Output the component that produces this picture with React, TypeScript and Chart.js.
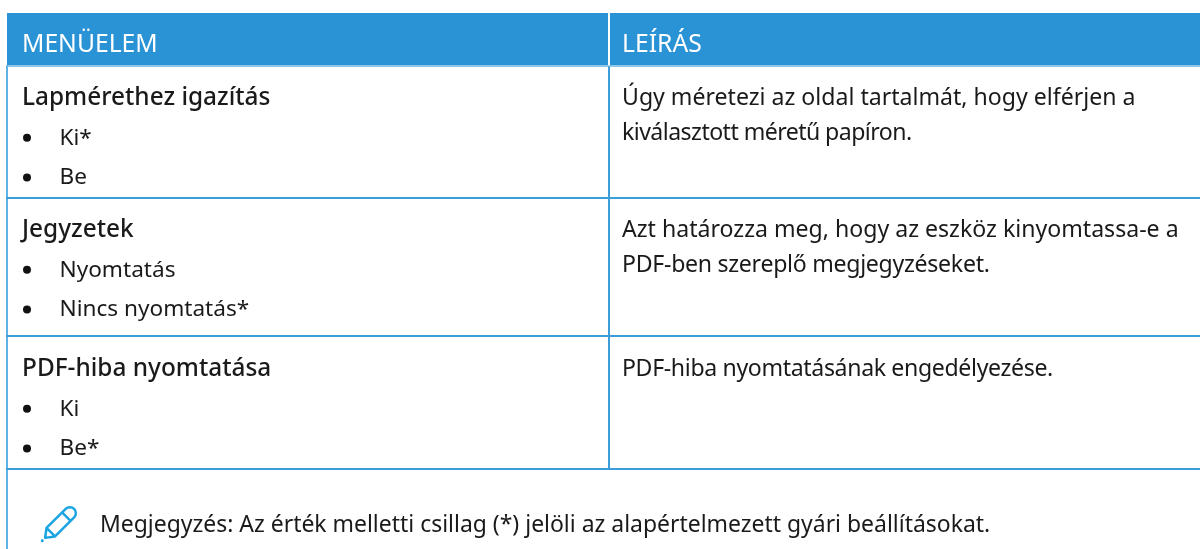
import React, { useEffect, useRef } from "react";
import { Chart, registerables } from "chart.js";

Chart.register(...registerables);

const headers = ["MENÜELEM", "LEÍRÁS"];
const itemTitles = ["Lapmérethez igazítás", "Jegyzetek", "PDF-hiba nyomtatása"];
const itemOptions = [
  ["Ki*", "Be"],
  ["Nyomtatás", "Nincs nyomtatás*"],
  ["Ki", "Be*"],
];
const descriptions = [
  ["Úgy méretezi az oldal tartalmát, hogy elférjen a", "kiválasztott méretű papíron."],
  ["Azt határozza meg, hogy az eszköz kinyomtassa-e a", "PDF-ben szereplő megjegyzéseket."],
  ["PDF-hiba nyomtatásának engedélyezése."],
];
const descSpacing = [
  [0, -0.55],
  [0, -0.28],
  [-0.35],
];
const note = "Megjegyzés: Az érték melletti csillag (*) jelöli az alapértelmezett gyári beállításokat.";

const rowLines = [197, 335, 468];
const titleBaselines = [105, 237, 376];
const lineGap = 39.7;
const descGap = 35;
const col = { left: 6, div: 608, text1: 22, bullet: 27, opt: 59.5, text2: 622, right: 1200, top: 13, head: 65.5, bottom: 549 };
const FONT = '"Noto Sans"';

const bulletPoints = itemOptions.flatMap((opts, i) =>
  opts.map((_, j) => ({ x: col.bullet, y: titleBaselines[i] + lineGap * (j + 1) - 7 }))
);

const tablePlugin = {
  id: "table",
  beforeDatasetsDraw(chart: any) {
    const { ctx, scales } = chart;
    const X = (v: number) => scales.x.getPixelForValue(v);
    const Y = (v: number) => scales.y.getPixelForValue(v);
    const W = X(col.right) - X(col.left);
    ctx.save();
    ctx.fillStyle = "#2a93d5";
    ctx.fillRect(X(col.left) + 1, Y(col.top), W, Y(col.head) - Y(col.top));
    ctx.fillStyle = "#ffffff";
    ctx.fillRect(X(col.div), Y(col.top), 2, Y(col.head) - Y(col.top));
    ctx.fillStyle = "#8cc6ea";
    ctx.fillRect(X(col.left), Y(col.head), W, 1.5);
    ctx.fillStyle = "#5eb2e6";
    ctx.fillRect(X(col.left), Y(col.head), 2, Y(col.bottom) - Y(col.head));
    ctx.fillStyle = "#3d9ddb";
    ctx.fillRect(X(col.div), Y(col.head) + 1, 2, Y(rowLines[2]) - Y(col.head));
    rowLines.forEach((t) => {
      ctx.fillRect(X(col.left), Y(t), W, 2);
    });

    ctx.textBaseline = "alphabetic";
    ctx.textAlign = "left";
    ctx.fillStyle = "#ffffff";
    ctx.font = `400 24.7px ${FONT}`;
    ctx.fillText(headers[0], X(col.text1), Y(52));
    ctx.fillText(headers[1], X(col.text2), Y(52));

    ctx.fillStyle = "#1a1a1a";
    itemTitles.forEach((title, i) => {
      ctx.font = `500 24.4px ${FONT}`;
      ctx.fillText(title, X(col.text1), Y(titleBaselines[i]));
      ctx.font = `400 22.6px ${FONT}`;
      itemOptions[i].forEach((o, j) => {
        ctx.fillText(o, X(col.opt), Y(titleBaselines[i] + lineGap * (j + 1)));
      });
      ctx.font = `400 23.1px ${FONT}`;
      descriptions[i].forEach((d, j) => {
        ctx.letterSpacing = `${descSpacing[i][j]}px`;
        ctx.fillText(d, X(col.text2), Y(titleBaselines[i] + descGap * j));
      });
      ctx.letterSpacing = "0px";
    });
    ctx.font = `400 22.95px ${FONT}`;
    ctx.fillText(note, X(100), Y(532));

    ctx.translate(X(43), Y(540));
    ctx.rotate(-Math.PI / 4);
    ctx.strokeStyle = "#1ba4e2";
    ctx.fillStyle = "#1ba4e2";
    ctx.lineWidth = 2.5;
    ctx.lineJoin = "round";
    ctx.beginPath();
    ctx.moveTo(3, 0);
    ctx.lineTo(11, -6);
    ctx.lineTo(37, -6);
    ctx.arc(38, 0, 6, -Math.PI / 2, Math.PI / 2);
    ctx.lineTo(11, 6);
    ctx.closePath();
    ctx.moveTo(11, -6);
    ctx.lineTo(11, 6);
    ctx.moveTo(33, -6);
    ctx.lineTo(33, 6);
    ctx.stroke();
    ctx.beginPath();
    ctx.arc(-1, 0, 1.5, 0, Math.PI * 2);
    ctx.fill();
    ctx.restore();
  },
};

export default function App() {
  const ref = useRef<HTMLCanvasElement>(null);
  useEffect(() => {
    document.body.style.margin = "0";
    const chart = new Chart(ref.current!, {
      type: "scatter",
      data: {
        datasets: [
          {
            data: bulletPoints,
            pointStyle: "circle",
            pointRadius: 4,
            backgroundColor: "#111111",
            borderWidth: 0,
          },
        ],
      },
      options: {
        animation: false,
        responsive: false,
        layout: { padding: 0, autoPadding: false },
        plugins: { legend: { display: false }, tooltip: { enabled: false } },
        scales: {
          x: { type: "linear", display: false, min: 0, max: 1200 },
          y: { type: "linear", display: false, min: 0, max: 549, reverse: true },
        },
      },
      plugins: [tablePlugin],
    } as any);
    return () => chart.destroy();
  }, []);
  return <canvas ref={ref} width={1200} height={549} style={{ display: "block" }} />;
}
